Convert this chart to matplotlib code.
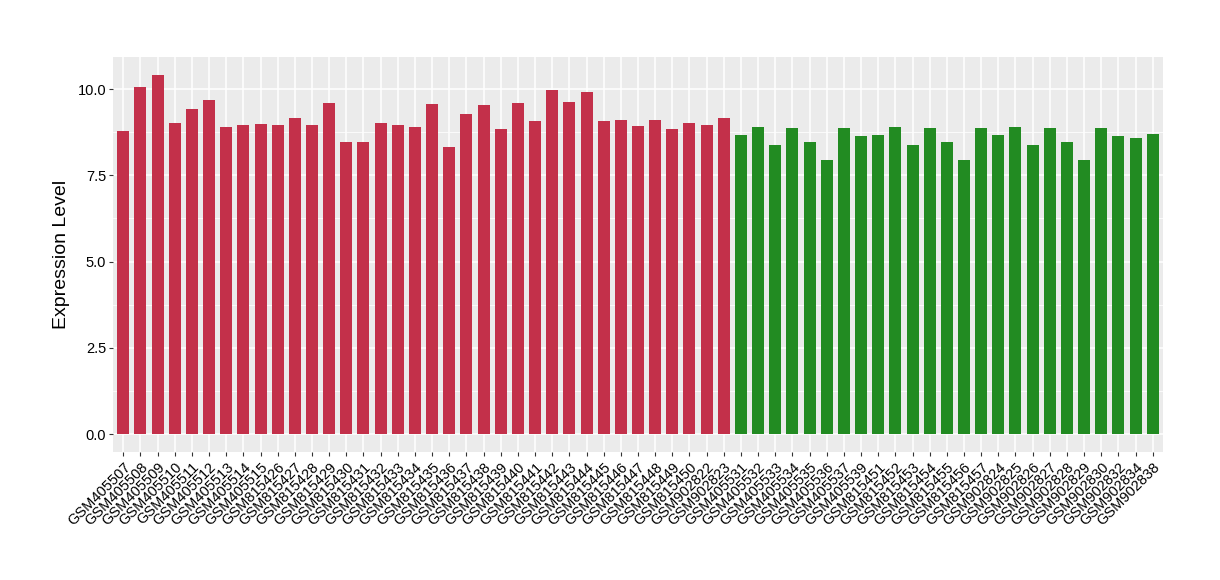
import matplotlib
matplotlib.use("Agg")
import matplotlib.pyplot as plt
from matplotlib.ticker import MultipleLocator

plt.rcParams['font.family'] = ['Liberation Sans', 'DejaVu Sans']

red_samples = ["GSM405507", "GSM405508", "GSM405509", "GSM405510", "GSM405511", "GSM405512",
               "GSM405513", "GSM405514", "GSM405515", "GSM815426", "GSM815427", "GSM815428",
               "GSM815429", "GSM815430", "GSM815431", "GSM815432", "GSM815433", "GSM815434",
               "GSM815435", "GSM815436", "GSM815437", "GSM815438", "GSM815439", "GSM815440",
               "GSM815441", "GSM815442", "GSM815443", "GSM815444", "GSM815445", "GSM815446",
               "GSM815447", "GSM815448", "GSM815449", "GSM815450", "GSM902822", "GSM902823"]
red_values = [8.78, 10.06, 10.41, 9.01, 9.42, 9.68, 8.90, 8.95, 8.98, 8.95, 9.16, 8.95,
              9.59, 8.46, 8.46, 9.01, 8.95, 8.90, 9.56, 8.31, 9.27, 9.53, 8.84, 9.59,
              9.07, 9.97, 9.62, 9.91, 9.07, 9.10, 8.92, 9.10, 8.84, 9.01, 8.95, 9.16]

green_samples = ["GSM405531", "GSM405532", "GSM405533", "GSM405534", "GSM405535", "GSM405536",
                 "GSM405537", "GSM405539", "GSM815451", "GSM815452", "GSM815453", "GSM815454",
                 "GSM815455", "GSM815456", "GSM815457", "GSM902824", "GSM902825", "GSM902826",
                 "GSM902827", "GSM902828", "GSM902829", "GSM902830", "GSM902832", "GSM902834",
                 "GSM902838"]
green_values = [8.66, 8.90, 8.37, 8.87, 8.46, 7.94, 8.87, 8.63, 8.66, 8.90, 8.37, 8.87,
                8.46, 7.94, 8.87, 8.66, 8.90, 8.37, 8.87, 8.46, 7.94, 8.87, 8.63, 8.58,
                8.69]

y_ticks = [0.0, 2.5, 5.0, 7.5, 10.0]
y_tick_labels = ["0.0", "2.5", "5.0", "7.5", "10.0"]

RED = "#C3304A"
GREEN = "#228B22"

labels = red_samples + green_samples
values = red_values + green_values
colors = [RED] * len(red_values) + [GREEN] * len(green_values)
x = list(range(len(labels)))

fig = plt.figure(figsize=(12.2, 5.8), dpi=100)
ax = fig.add_axes([113 / 1220, 1 - 452 / 580, 1050 / 1220, (452 - 57) / 580])
ax.set_facecolor("#EBEBEB")

ax.bar(x, values, width=0.7, color=colors, zorder=3)

ax.set_xlim(-0.6, len(labels) - 1 + 0.6)
ymax = max(values)
ax.set_ylim(-0.05 * ymax, ymax * 1.05)

ax.set_yticks(y_ticks)
ax.set_yticklabels(y_tick_labels)
ax.yaxis.set_minor_locator(MultipleLocator(1.25))
ax.set_xticks(x)
ax.set_xticklabels(labels, rotation=45, ha="right", va="top", rotation_mode="anchor")

ax.grid(which="major", color="white", linewidth=1.1, zorder=1)
ax.grid(which="minor", axis="y", color="white", linewidth=0.55, zorder=1)
ax.set_axisbelow(True)

for s in ax.spines.values():
    s.set_visible(False)

ax.tick_params(axis="both", which="major", length=3, width=0.8, color="#333333",
               labelsize=10.5, labelcolor="black", pad=2)
ax.tick_params(axis="x", pad=3)
ax.tick_params(which="minor", length=0)

ax.set_ylabel("Expression Level", fontsize=14, labelpad=5)

fig.savefig("out.png", dpi=100)
